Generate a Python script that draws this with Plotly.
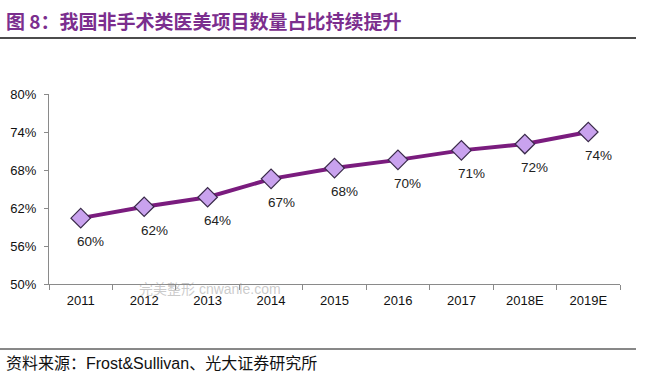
import plotly.graph_objects as go

years = ["2011", "2012", "2013", "2014", "2015", "2016", "2017", "2018E", "2019E"]
share = [60.4, 62.2, 63.7, 66.6, 68.3, 69.6, 71.1, 72.1, 74.0]
labels = ["60%", "62%", "64%", "67%", "68%", "70%", "71%", "72%", "74%"]
y_ticks = [50, 56, 62, 68, 74, 80]
y_tick_text = ["50%", "56%", "62%", "68%", "74%", "80%"]

W, H = 661, 387
L, R, T, B = 49, 620, 94, 284

def px_x(px):
    return (px - L) / (R - L)
def px_y(py):
    return (B - py) / (B - T)

fig = go.Figure()
fig.add_trace(go.Scatter(
    x=years, y=share, mode="lines+markers",
    line=dict(color="#7A1C7E", width=4),
    marker=dict(symbol="diamond", size=15, color="#C9A2EE",
                line=dict(color="#3A2A4A", width=1.2)),
    cliponaxis=False, hoverinfo="skip",
))

for i, (yv, lab) in enumerate(zip(share, labels)):
    fig.add_annotation(x=i, y=yv, text=lab, showarrow=False,
                       xanchor="center", yanchor="top", xshift=10, yshift=-14,
                       font=dict(family="Liberation Sans, Arial", size=13.5, color="#222"))

axis_font = dict(family="Liberation Sans, Arial", size=13, color="#111")
fig.update_layout(
    width=W, height=H,
    margin=dict(l=L, r=W - R, t=T, b=H - B),
    paper_bgcolor="white", plot_bgcolor="white",
    showlegend=False,
    xaxis=dict(type="category", range=[-0.5, 8.5], showgrid=False, automargin=False,
               showline=True, linecolor="#8a8a8a", linewidth=1,
               ticks="outside", ticklen=5, tickcolor="#8a8a8a",
               tickson="boundaries", tickfont=axis_font, ticklabelstandoff=4),
    yaxis=dict(range=[50, 80], tickvals=y_ticks, ticktext=y_tick_text, automargin=False,
               showgrid=False, zeroline=False,
               showline=True, linecolor="#8a8a8a", linewidth=1,
               ticks="outside", ticklen=4, tickcolor="#8a8a8a",
               tickfont=axis_font, ticklabelstandoff=5),
)

fig.add_annotation(xref="paper", yref="paper", x=px_x(4), y=px_y(21),
                   xanchor="left", yanchor="middle", showarrow=False,
                   text="<b>图 8：我国非手术类医美项目数量占比持续提升</b>",
                   font=dict(family="Noto Sans CJK SC", size=19, color="#7B2E8E"))
fig.add_annotation(xref="paper", yref="paper", x=px_x(4), y=px_y(363),
                   xanchor="left", yanchor="middle", showarrow=False,
                   text="资料来源：Frost&Sullivan、光大证券研究所",
                   font=dict(family="Liberation Sans, Noto Sans CJK SC", size=16, color="#111"))
fig.add_annotation(xref="paper", yref="paper", x=px_x(210), y=px_y(289),
                   xanchor="center", yanchor="middle", showarrow=False,
                   text="完美整形 cnwanle.com",
                   font=dict(family="Liberation Sans, Noto Sans CJK SC", size=14,
                             color="rgba(150,150,150,0.5)"))

fig.add_shape(type="line", xref="paper", yref="paper",
              x0=px_x(0), x1=px_x(636), y0=px_y(38), y1=px_y(38),
              line=dict(color="#111", width=1.5))
fig.add_shape(type="line", xref="paper", yref="paper",
              x0=px_x(0), x1=px_x(636), y0=px_y(349), y1=px_y(349),
              line=dict(color="#111", width=1))

fig.write_html("out.html", config={"displayModeBar": False},
               post_script="document.body.style.margin='0';document.body.style.overflow='hidden';")
